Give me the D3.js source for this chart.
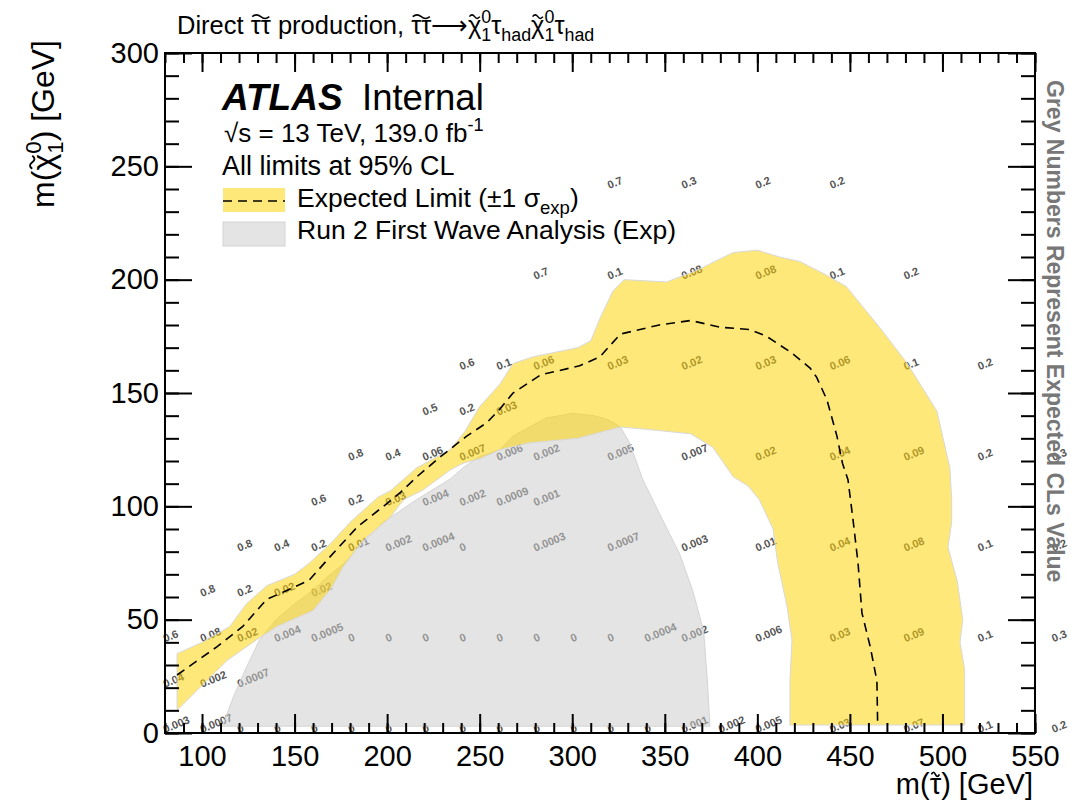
<!DOCTYPE html>
<html>
<head>
<meta charset="utf-8">
<script src="https://cdn.jsdelivr.net/npm/d3@7"></script>
<style>
  body { margin: 0; background: #fff; }
  text { font-family: "Liberation Sans", Arial, Helvetica, sans-serif; }
</style>
</head>
<body>
<div id="viz"></div>
<script>

// ---- data ----
// axis ticks
var xMajor = [100, 150, 200, 250, 300, 350, 400, 450, 500, 550];
var yMajor = [0, 50, 100, 150, 200, 250, 300];

// +-1 sigma band: outer edge (top + right side) and inner edge (bottom + left of right leg)
var bandOuter = [[86.5,35],[100,40],[115,47],[124,57],[135,65],[150,70],[158,75],[170,84],[180,93],
    [195,104],[202,107],[216,117],[234,125],[242,133],[250,144],[261,154],[268,163],[279,166],
    [303,170],[310,173],[315,183],[322,195],[328,200],[351,199],[367,204],[387,212],[400,213],
    [412,210],[423,208],[435,203],[448,197],[466,179],[481,163],[497,142],[504,117],[505,103],
    [505,93],[503,82],[508,67],[511,50],[509.5,40],[512,28],[512,3.5]];
var bandInner = [[86.5,10],[113.5,32],[131,42],[140.5,47],[160,54],[170,64],[176,73],[187,85],
    [201.5,95],[209,103],[219,107],[234,116],[241,119],[250,121],[261,125],[277,128],[303,130],
    [326,135],[340,134],[364,132],[376,126],[387,113],[395,109],[401,103],[408.5,90],[411,75],
    [416,56],[418.7,41],[417.6,23],[417.6,3.5]];

// expected limit (dashed)
var expLine = [[86.5,25.6],[108,38],[122,47],[135,59],[149,64],[158,67.5],[169,77.6],[184,91],
    [198,100],[207,106],[216,113],[229,122],[243,131],[254,137],[261,143],[268,150],[283,158],
    [304,162],[315,166],[326,176],[347,180],[364,182],[380,179],[396,178],[405,175],[418,168],
    [428.5,161],[432,157],[437.6,147],[443,131],[446,119],[449,111.6],[451.7,94],[454.4,75],
    [456.5,53],[461,38],[464.6,23],[465,3.5]];

// Run 2 first wave analysis (expected) contour
var firstWave = [[111,3],[117,16],[124,29],[131,41],[140,50],[150,57],[160,63],[168,69],[177,75],
    [188,85],[198,93],[216,103],[234,112],[241,117],[250,122],[261,125],[268,131],[286,139],
    [300,141],[312,140],[320,138],[326,135],[331,128],[338,112],[347,97],[358,79],[365,63],
    [371,45],[373,23],[374.4,3]];

// grey CLs numbers, one row per LSP mass
var clsRowY = [0, 20, 40, 60, 80, 100, 120, 140, 160, 200, 240];
var clsRowX = [
    [80,100,120,140,160,180,200,220,240,260,280,300,320,340,360,380,400,440,480,520,560],
    [80,100,120],
    [80,100,120,140,160,180,200,220,240,260,280,300,320,340,360,400,440,480,520,560],
    [100,120,140,160],
    [120,140,160,180,200,220,240,280,320,360,400,440,480,520,560],
    [160,180,200,220,240,260,280],
    [180,200,220,240,260,280,320,360,400,440,480,520,560],
    [220,240,260],
    [240,260,280,320,360,400,440,480,520],
    [280,320,360,400,440,480],
    [320,360,400,440]
];
var clsRowVal = [
    ["0.003","0.0007","0","0","0","0","0","0","0","0","0","0","0","0","0.001","0.002","0.005","0.03","0.07","0.1","0.2"],
    ["0.04","0.002","0.0007"],
    ["0.6","0.08","0.02","0.004","0.0005","0","0","0","0","0","0","0","0","0.0004","0.002","0.006","0.03","0.09","0.1","0.3"],
    ["0.8","0.2","0.02","0.02"],
    ["0.8","0.4","0.2","0.01","0.002","0.0004","0","0.0003","0.0007","0.003","0.01","0.04","0.08","0.1","0.2"],
    ["0.6","0.2","0.03","0.004","0.002","0.0009","0.001"],
    ["0.8","0.4","0.06","0.007","0.006","0.002","0.005","0.007","0.02","0.04","0.09","0.2","0.3"],
    ["0.5","0.2","0.03"],
    ["0.6","0.1","0.06","0.03","0.02","0.03","0.06","0.1","0.2"],
    ["0.7","0.1","0.08","0.08","0.1","0.2"],
    ["0.7","0.3","0.2","0.2"]
];

// ---- styles ----
var yellowFill = "#ffd200", yellowAlpha = 0.52;
var greyFill = "#cccccc", greyAlpha = 0.52;

var svg = d3.select("#viz").append("svg")
        .attr("width", 1071)
        .attr("height", 804);

var x = d3.scaleLinear().domain([80, 550]).range([165, 1035]);
var y = d3.scaleLinear().domain([0, 300]).range([733, 53]);

/*
 * richLabel g, x, y, size, anchor, parts -> text element
 * parts are [string, kind]; kind is "", "tilde" (drawn with a wavy
 * accent on top), "arrow", "sup", "sub" or "under" (a sub stacked below
 * the superscript just written, like ROOT does with _{1}^{0})
 */
function richLabel(g, x0, y0, size, anchor, parts) {
    var text = g.append("text").attr("x", x0).attr("y", y0)
        .attr("font-size", size).attr("text-anchor", anchor);
    var shift = 0, accents = [];
    parts.forEach(function(p) {
        var kind = p[1] || "", off = 0, fs = size, dx = 0;
        if (kind == "sup") { off = -0.42 * size; fs = 0.7 * size; }
        if (kind == "sub") { off = 0.28 * size; fs = 0.7 * size; }
        if (kind == "under") { off = 0.28 * size; fs = 0.7 * size; dx = -0.39 * size; }
        var t = text.append("tspan").attr("dy", off - shift).attr("font-size", fs).text(p[0]);
        if (dx) t.attr("dx", dx);
        if (kind == "arrow") t.style("font-family", "'DejaVu Sans', sans-serif");
        if (kind == "tilde") accents.push(t.node());
        shift = off;
    });
    // the combining tilde of the fonts sits badly, so draw it by hand
    accents.forEach(function(n) {
        var k = n.getNumberOfChars();
        var x1 = n.getStartPositionOfChar(0).x, base = n.getStartPositionOfChar(0).y;
        var x2 = n.getEndPositionOfChar(k - 1).x;
        var pad = 0.06 * size, w = x2 - x1 - 2 * pad, a = 0.07 * size;
        var ty = base - 0.68 * size;
        g.append("path")
            .attr("d", "M" + (x1 + pad) + "," + ty + " q" + (w / 4) + "," + (-2 * a) + " " + (w / 2) + ",0" +
                  " t" + (w / 2) + ",0")
            .style("fill", "none").style("stroke", "#000").style("stroke-width", 0.06 * size);
    });
    return text;
}

// clip for everything inside the frame
svg.append("clipPath").attr("id", "frame")
    .append("rect").attr("x", 165).attr("y", 53).attr("width", 870).attr("height", 680);

// Grey CLs numbers go first, the bands are see-through on top of them
var labels = [];
clsRowY.forEach(function(my, i) {
    clsRowX[i].forEach(function(mx, j) {
        labels.push({x: mx, y: my, t: clsRowVal[i][j]});
    });
});
svg.append("g").selectAll("text")
    .data(labels)
    .enter().append("text")
    .attr("transform", function(d) { return "translate(" + x(d.x) + "," + y(d.y) + ") rotate(-22)"; })
    .attr("font-size", 11)
    .attr("font-weight", "bold")
    .attr("fill", "#555")
    .text(function(d) { return d.t; });

var area = d3.line().x(function(d) { return x(d[0]); }).y(function(d) { return y(d[1]); });
var plot = svg.append("g").attr("clip-path", "url(#frame)");

plot.append("path")
    .attr("d", area(firstWave) + "Z")
    .style("fill", greyFill).style("fill-opacity", greyAlpha)
    .style("stroke", "#d4d4d4").style("stroke-width", 1);

plot.append("path")
    .attr("d", area(bandOuter.concat(bandInner.slice().reverse())) + "Z")
    .style("fill", yellowFill).style("fill-opacity", yellowAlpha)
    .style("stroke", "#d8d8d8").style("stroke-width", 1);

plot.append("path")
    .attr("d", area(expLine))
    .style("fill", "none").style("stroke", "#000")
    .style("stroke-width", 1.6).style("stroke-dasharray", "9,6");

// Axes: ROOT style, ticks inside on all four sides
function drawAxis(axis, tx, ty) {
    var g = svg.append("g").attr("transform", "translate(" + tx + "," + ty + ")").call(axis);
    g.select(".domain").remove();
    g.selectAll("line").attr("stroke", "#000").attr("stroke-width", 2);
    g.selectAll("text").attr("font-size", 29).attr("fill", "#000")
        .style("font-family", "'Liberation Sans', Arial, sans-serif");
    return g;
}
var xMinor = d3.range(80, 551, 10), yMinor = d3.range(0, 301, 10);
drawAxis(d3.axisBottom(x).tickValues(xMinor).tickSize(-10).tickFormat(""), 0, 733);
drawAxis(d3.axisBottom(x).tickValues(xMajor).tickSize(-19).tickPadding(12).tickFormat(d3.format("d")), 0, 733);
drawAxis(d3.axisTop(x).tickValues(xMinor).tickSize(-10).tickFormat(""), 0, 53);
drawAxis(d3.axisTop(x).tickValues(xMajor).tickSize(-19).tickFormat(""), 0, 53);
drawAxis(d3.axisLeft(y).tickValues(yMinor).tickSize(-14).tickFormat(""), 165, 0);
drawAxis(d3.axisLeft(y).tickValues(yMajor).tickSize(-27).tickPadding(6).tickFormat(d3.format("d")), 165, 0);
drawAxis(d3.axisRight(y).tickValues(yMinor).tickSize(-14).tickFormat(""), 1035, 0);
drawAxis(d3.axisRight(y).tickValues(yMajor).tickSize(-27).tickFormat(""), 1035, 0);

svg.append("rect")
    .attr("x", 165).attr("y", 53).attr("width", 870).attr("height", 680)
    .style("fill", "none").style("stroke", "#000").style("stroke-width", 2);

// Axis titles
var tau = "\u03c4", chi = "\u03c7";
richLabel(svg.append("g"), 1033, 794, 29, "end",
    [["m(", ""], [tau, "tilde"], [") [GeV]", ""]]);

richLabel(svg.append("g").attr("transform", "translate(54,40) rotate(-90)"), 0, 0, 32, "end",
    [["m(", ""], [chi, "tilde"], ["0", "sup"], ["1", "under"], [") [GeV]", ""]]);

svg.append("text").attr("transform", "translate(1047,80) rotate(90)")
    .attr("font-size", 23).attr("font-weight", "bold").attr("fill", "#777")
    .text("Grey Numbers Represent Expected CLs Value");

// Title above the frame
richLabel(svg.append("g"), 177, 34, 25.5, "start", [["Direct ", ""], [tau + tau, "tilde"], [" production, ", ""],
    [tau + tau, "tilde"], ["\u27f6", "arrow"], [chi, "tilde"], ["0", "sup"], ["1", "under"], [tau, ""],
    ["had", "sub"], [chi, "tilde"], ["0", "sup"], ["1", "under"], [tau, ""], ["had", "sub"]]);

// ATLAS label and legend
svg.append("text").attr("x", 222).attr("y", 110).attr("font-size", 37)
    .attr("font-weight", "bold").attr("font-style", "italic").text("ATLAS");
svg.append("text").attr("x", 362).attr("y", 110).attr("font-size", 36.5).text("Internal");

richLabel(svg.append("g"), 224, 142, 26, "start", [["\u221as = 13 TeV, 139.0 fb", ""], ["-1", "sup"]]);
svg.append("text").attr("x", 222).attr("y", 175).attr("font-size", 27).text("All limits at 95% CL");

svg.append("rect").attr("x", 223).attr("y", 188).attr("width", 62).attr("height", 24)
    .style("fill", yellowFill).style("fill-opacity", yellowAlpha);
svg.append("line").attr("x1", 223).attr("x2", 285).attr("y1", 201).attr("y2", 201)
    .style("stroke", "#000").style("stroke-width", 1.6).style("stroke-dasharray", "9,6");
svg.append("rect").attr("x", 223).attr("y", 222).attr("width", 62).attr("height", 24)
    .style("fill", greyFill).style("fill-opacity", greyAlpha)
    .style("stroke", "#d4d4d4").style("stroke-width", 1);

richLabel(svg.append("g"), 297, 207, 26.5, "start", [["Expected Limit (\u00b11 \u03c3", ""], ["exp", "sub"], [")", ""]]);
svg.append("text").attr("x", 297).attr("y", 239).attr("font-size", 26.5)
    .text("Run 2 First Wave Analysis (Exp)");

</script>
</body>
</html>
